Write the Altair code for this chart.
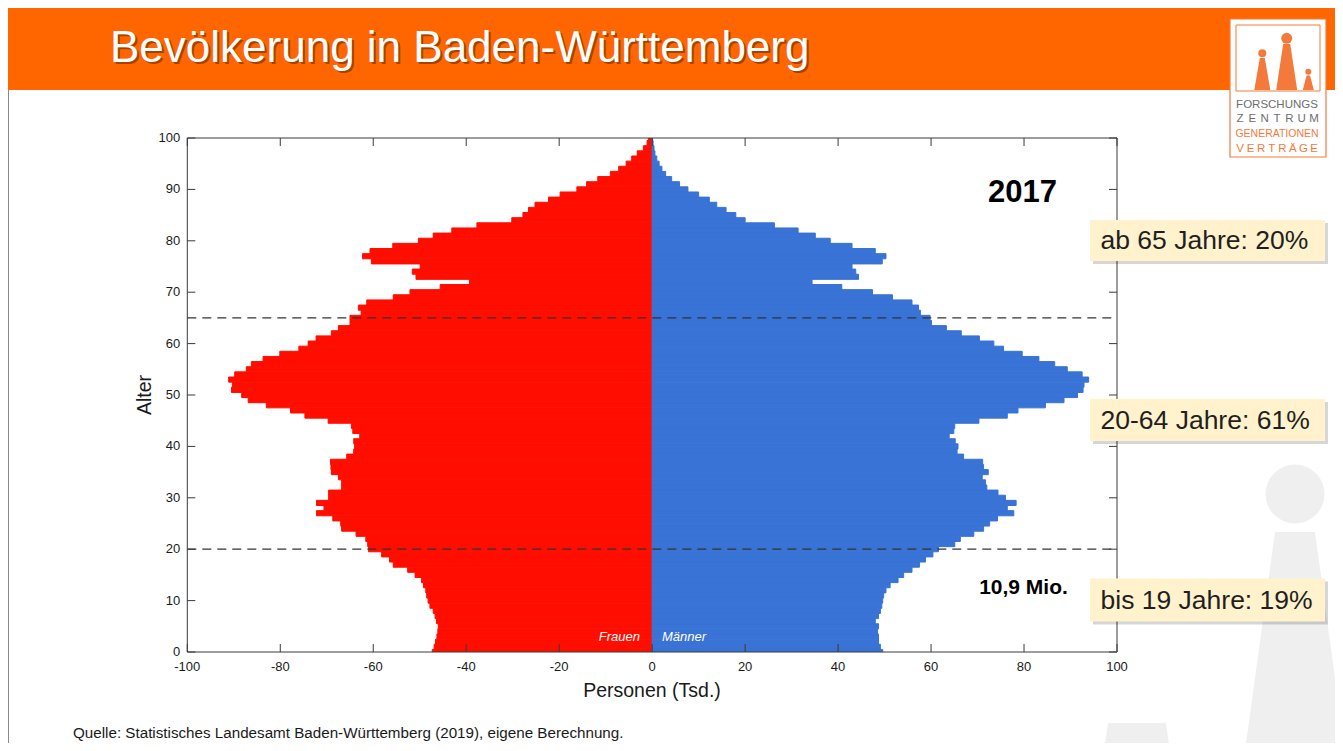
import altair as alt
import pandas as pd

# ---------------- data ----------------
ages = list(range(0, 101))
frauen = [47.3, 46.9, 46.6, 46.3, 46.1, 46.0, 46.4, 46.7, 47.1, 47.8,
          48.2, 48.5, 48.7, 49.2, 49.6, 51.0, 52.6, 55.7, 56.5, 58.2,
          61.0, 61.2, 61.6, 63.7, 66.8, 67.0, 68.7, 72.2, 70.6, 72.2,
          69.6, 69.6, 66.8, 66.8, 67.5, 69.0, 69.1, 69.2, 65.7, 64.2,
          64.0, 64.2, 62.9, 64.4, 64.7, 69.7, 74.7, 77.8, 83.0, 86.9,
          88.3, 90.5, 90.3, 91.1, 89.8, 87.3, 86.2, 83.7, 80.1, 76.0,
          74.0, 72.3, 69.0, 67.5, 65.0, 65.0, 62.6, 63.2, 61.4, 55.7,
          52.1, 45.6, 39.3, 50.8, 51.6, 49.9, 60.4, 62.3, 60.7, 55.8,
          50.3, 47.1, 43.1, 37.7, 30.2, 27.8, 26.6, 25.2, 22.3, 19.8,
          16.2, 14.1, 11.7, 9.0, 7.2, 5.6, 4.4, 3.2, 1.9, 1.1, 0.8]
maenner = [49.6, 49.1, 48.7, 48.7, 48.5, 48.7, 48.0, 48.7, 49.1, 49.4,
           49.6, 49.8, 50.3, 51.2, 52.9, 54.1, 55.9, 57.5, 58.8, 60.4,
           61.6, 65.1, 66.3, 69.2, 71.3, 72.6, 74.3, 77.8, 76.4, 78.3,
           76.0, 74.4, 72.0, 71.7, 71.0, 72.3, 71.3, 71.1, 67.0, 65.6,
           65.8, 65.2, 63.9, 64.9, 65.1, 70.3, 76.4, 78.7, 84.6, 88.6,
           91.5, 92.7, 92.9, 93.9, 92.5, 89.3, 86.6, 83.2, 79.6, 75.6,
           73.5, 70.4, 66.5, 63.3, 60.1, 59.8, 57.7, 57.3, 55.9, 51.7,
           47.4, 40.8, 34.4, 44.4, 43.8, 43.0, 49.5, 50.3, 48.0, 43.0,
           38.3, 35.1, 31.4, 26.3, 20.0, 18.0, 15.9, 13.9, 12.3, 10.0,
           7.7, 5.9, 4.2, 2.9, 2.1, 1.5, 1.0, 0.6, 0.4, 0.2, 0.1]
x_tick_values = [-100, -80, -60, -40, -20, 0, 20, 40, 60, 80, 100]
y_tick_values = [0, 10, 20, 30, 40, 50, 60, 70, 80, 90, 100]
split_ages = [20, 65]

title_text = "Bevölkerung in Baden-Württemberg"
year_label = "2017"
total_label = "10,9 Mio."
callouts = ["ab 65 Jahre: 20%", "20-64 Jahre: 61%", "bis 19 Jahre: 19%"]
source_text = "Quelle: Statistisches Landesamt Baden-Württemberg (2019), eigene Berechnung."
x_title = "Personen (Tsd.)"
y_title = "Alter"
sex_labels = ["Frauen", "Männer"]
logo_word1 = "FORSCHUNGS"
logo_word2 = "ZENTRUM"
logo_word3 = "GENERATIONEN"
logo_word4 = "VERTRÄGE"

# ---------------- layout helpers ----------------
OX, OY = 187.3, 138.0      # page position of plot origin
W, H = 929.7, 514.0        # plot area
FONT = "Liberation Sans"
ORANGE = "#FF6600"
LOGO_OR = "#F47A3C"
RED = "#FF0E00"
BLUE = "#3873D5"


def px(x):
    return x - OX


def py(y):
    return y - OY


one = pd.DataFrame({"k": [0]})


def text(s, x, y, size, color="#1a1a1a", weight="normal", align="left",
         style="normal", angle=0, opacity=1.0, baseline="alphabetic"):
    return alt.Chart(one).mark_text(
        text=s, fontSize=size, font=FONT, color=color, fontWeight=weight,
        align=align, baseline=baseline, fontStyle=style, angle=angle,
        opacity=opacity,
    ).encode(x=alt.value(x), y=alt.value(y))


def rect(x1, y1, x2, y2, **kw):
    return alt.Chart(one).mark_rect(**kw).encode(
        x=alt.value(x1), x2=alt.value(x2), y=alt.value(y1), y2=alt.value(y2))


def symbol(shape, cx, cy, size, color):
    return alt.Chart(one).mark_point(
        shape=shape, size=size, filled=True, fill=color, opacity=1,
        strokeWidth=0,
    ).encode(x=alt.value(cx), y=alt.value(cy))


def trapezoid(cx, top, bottom, wtop, wbot, color):
    h = bottom - top
    half = h / 2.0
    path = "M{a:.4f},-1L{b:.4f},-1L{c:.4f},1L{d:.4f},1Z".format(
        a=-wtop / 2 / half, b=wtop / 2 / half, c=wbot / 2 / half, d=-wbot / 2 / half)
    return symbol(path, cx, (top + bottom) / 2.0, h * h, color)


def circle(cx, cy, r, color):
    return symbol("circle", cx, cy, (2 * r) ** 2, color)


layers = []

# ---------------- background decorations ----------------
WM = "#EFEFEF"
layers.append(circle(px(1295), py(494), 29.5, WM))
layers.append(trapezoid(px(1295), py(532), py(751), 40, 100, WM))
layers.append(trapezoid(px(1137), py(723), py(780), 58, 74, WM))

# slide borders
for bx in [8.5, 1336.5]:
    layers.append(alt.Chart(one).mark_rule(color="#8a8a8a", strokeWidth=1).encode(
        x=alt.value(px(bx)), y=alt.value(py(90)), y2=alt.value(py(751))))

# title bar
layers.append(rect(px(8), py(8), px(1336), py(90), fill=ORANGE))
layers.append(text(title_text, px(112), py(64), 44, color="#000000", opacity=0.35))
layers.append(text(title_text, px(110), py(62), 44, color="#FFFFFF"))

# logo
layers.append(rect(px(1230), py(19), px(1326), py(157), fill="#FFFFFF",
                   stroke=LOGO_OR, strokeWidth=1.2))
layers.append(rect(px(1236), py(25), px(1320), py(91), fillOpacity=0,
                   stroke=LOGO_OR, strokeWidth=1))
layers.append(circle(px(1286.7), py(38.3), 5.5, LOGO_OR))
layers.append(trapezoid(px(1286.7), py(44), py(90), 7, 21, LOGO_OR))
layers.append(circle(px(1262.3), py(53.3), 4, LOGO_OR))
layers.append(trapezoid(px(1262.3), py(58), py(90), 5, 16, LOGO_OR))
layers.append(circle(px(1308.3), py(71.7), 3, LOGO_OR))
layers.append(trapezoid(px(1308.3), py(75.5), py(90), 3.5, 11, LOGO_OR))
layers.append(text(logo_word1, px(1277), py(108.3), 11.5, color="#6D6E71", align="center"))
layers.append(text(logo_word3, px(1277), py(137.3), 10.5, color=LOGO_OR, align="center"))
for i, ch in enumerate(logo_word2):
    cx = 1240 + i * (1314 - 1240) / (len(logo_word2) - 1)
    layers.append(text(ch, px(cx), py(122.3), 11.5, color="#6D6E71", align="center"))
for i, ch in enumerate(logo_word4):
    cx = 1240 + i * (1314 - 1240) / (len(logo_word4) - 1)
    layers.append(text(ch, px(cx), py(152.3), 11.5, color=LOGO_OR, align="center"))

# ---------------- bars ----------------
pop = pd.DataFrame({"age": ages, "frauen": frauen, "maenner": maenner})

xscale = alt.Scale(domain=[-100, 100], nice=False, zero=False)
yscale = alt.Scale(domain=[0, 100], nice=False, zero=False)

base = alt.Chart(pop).transform_calculate(
    lo="datum.age - 0.5", hi="datum.age + 0.5")

women = base.transform_calculate(v="-datum.frauen").mark_rect(
    clip=True, color=RED, stroke=RED, strokeWidth=1).encode(
    x=alt.X("v:Q", scale=xscale, axis=None),
    x2=alt.datum(0),
    y=alt.Y("lo:Q", scale=yscale, axis=None),
    y2="hi:Q",
)
men = base.transform_calculate(v="datum.maenner").mark_rect(
    clip=True, color=BLUE, stroke=BLUE, strokeWidth=1).encode(
    x=alt.X("v:Q", scale=xscale, axis=None),
    x2=alt.datum(0),
    y=alt.Y("lo:Q", scale=yscale, axis=None),
    y2="hi:Q",
)
layers += [women, men]

# dashed age separators
splits = pd.DataFrame({"a": split_ages})
layers.append(alt.Chart(splits).mark_rule(
    color="#333333", strokeWidth=1.2, strokeDash=[9, 6]).encode(
    y=alt.Y("a:Q", scale=yscale, axis=None),
    x=alt.value(0), x2=alt.value(W)))

# frame, inward ticks and tick labels
layers.append(rect(0, 0, W, H, fillOpacity=0, stroke="#3a3a3a", strokeWidth=1))
xt = pd.DataFrame({"t": x_tick_values})
yt = pd.DataFrame({"t": y_tick_values})
TK = 8
for (y1, y2) in [(H, H - TK), (0, TK)]:
    layers.append(alt.Chart(xt).mark_rule(color="#3a3a3a", strokeWidth=1).encode(
        x=alt.X("t:Q", scale=xscale, axis=None),
        y=alt.value(y1), y2=alt.value(y2)))
for (x1, x2) in [(0, TK), (W - TK, W)]:
    layers.append(alt.Chart(yt).mark_rule(color="#3a3a3a", strokeWidth=1).encode(
        y=alt.Y("t:Q", scale=yscale, axis=None),
        x=alt.value(x1), x2=alt.value(x2)))

layers.append(alt.Chart(xt).transform_calculate(lab="datum.t + ''").mark_text(
    font=FONT, fontSize=13, color="#1a1a1a", align="center", baseline="middle").encode(
    x=alt.X("t:Q", scale=xscale, axis=None), y=alt.value(H + 15), text="lab:N"))
layers.append(alt.Chart(yt).transform_calculate(lab="datum.t + ''").mark_text(
    font=FONT, fontSize=13, color="#1a1a1a", align="right", baseline="middle").encode(
    y=alt.Y("t:Q", scale=yscale, axis=None), x=alt.value(-7), text="lab:N"))

# ---------------- texts ----------------
layers.append(text(year_label, px(1022.5), py(201.5), 31, color="#000000",
                   weight="bold", align="center"))
layers.append(text(total_label, px(1023.5), py(594), 21, color="#000000",
                   weight="bold", align="center"))
layers.append(text(sex_labels[0], px(640), py(641), 13, color="#FFFFFF",
                   style="italic", align="right"))
layers.append(text(sex_labels[1], px(662), py(641), 13, color="#FFFFFF",
                   style="italic", align="left"))
layers.append(text(x_title, px(652), py(697), 19.5, color="#1a1a1a", align="center"))
layers.append(text(y_title, px(151), py(395), 19.5, color="#1a1a1a", align="center",
                   angle=270))
layers.append(text(source_text, px(73), py(738), 15.2, color="#1a1a1a"))

# callout boxes
boxes = [(220.0, 261.0, 249.0), (399.0, 441.0, 429.0), (578.5, 621.5, 608.5)]
for label, (t, b, base_y) in zip(callouts, boxes):
    layers.append(rect(px(1093), py(t + 3), px(1328), py(b + 3), fill="#000000",
                       opacity=0.16))
    layers.append(rect(px(1090), py(t), px(1325), py(b), fill="#FFF2CC"))
    layers.append(text(label, px(1100.5), py(base_y), 26.5, color="#1f1f1f"))

chart = alt.layer(*layers).properties(
    width=W, height=H,
    autosize=alt.AutoSizeParams(type="none"),
    padding={"left": OX - 8, "top": OY - 8, "right": 1327 - (OX - 8) - W,
             "bottom": 735 - (OY - 8) - H},
    background="#FFFFFF",
).configure_view(strokeWidth=0)

chart.save("out.html", embed_options={"renderer": "svg", "actions": False})
